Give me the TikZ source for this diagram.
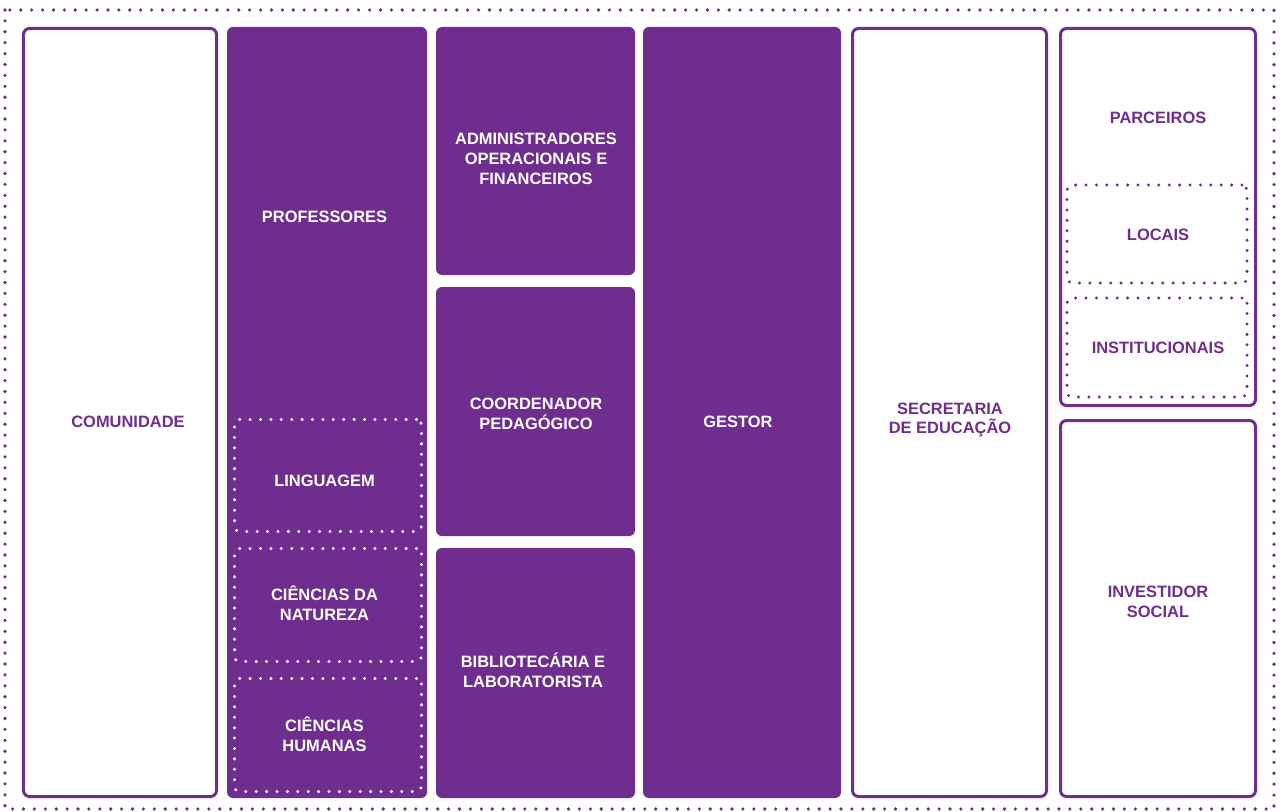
\documentclass[tikz,border=0pt]{standalone}
\usepackage{fontspec}
\setmainfont{Liberation Sans}
\definecolor{roxo}{RGB}{111,45,143}
\tikzset{
  base/.style={rectangle, inner sep=0pt, outer sep=0pt, rounded corners=6bp},
  wbox/.style={base, draw=roxo, line width=3bp, fill=white},
  pbox/.style={base, fill=roxo},
  dotbox/.style={base, draw=white, line width=3.3bp, dash pattern=on 0pt off 10.4bp, line cap=round, rounded corners=5bp},
  pdotbox/.style={dotbox, draw=roxo},
  wtxt/.style={text=white, font=\bfseries\fontsize{16.5}{20}\selectfont, align=center, inner sep=0pt},
  ptxt/.style={wtxt, text=roxo},
}
\begin{document}
\begin{tikzpicture}[x=1bp, y=-1bp]
\useasboundingbox (0,0) rectangle (1282,812);
% outer dotted frame
\draw[roxo, line width=3.6bp, dash pattern=on 0pt off 10.9bp, line cap=round] (5,10) rectangle (1274,809);
% column 1
\node[wbox, minimum width=193bp, minimum height=768bp] (com) at (120,412.5) {};
\node[ptxt] (comt) at (128,422) {COMUNIDADE};
% column 2
\node[pbox, minimum width=200bp, minimum height=771bp] (prof) at (327,412.5) {};
\node[wtxt] (proft) at (324.5,217) {PROFESSORES};
\node[dotbox, minimum width=187bp, minimum height=112bp] (ling) at (328,475.5) {};
\node[wtxt] (lingt) at (324.5,481) {LINGUAGEM};
\node[dotbox, minimum width=187bp, minimum height=113bp] (nat) at (328,605) {};
\node[wtxt] (natt) at (324.5,603) {CIÊNCIAS DA\\NATUREZA};
\node[dotbox, minimum width=187bp, minimum height=113bp] (hum) at (328,735) {};
\node[wtxt] (humt) at (324.5,734) {CIÊNCIAS\\HUMANAS};
% column 3
\node[pbox, minimum width=199bp, minimum height=248bp] (adm) at (535.5,151) {};
\node[wtxt] (admt) at (536,159) {ADMINISTRADORES\\OPERACIONAIS E\\FINANCEIROS};
\node[pbox, minimum width=199bp, minimum height=249bp] (coord) at (535.5,411.5) {};
\node[wtxt] (coordt) at (536,414) {COORDENADOR\\PEDAGÓGICO};
\node[pbox, minimum width=199bp, minimum height=250bp] (bib) at (535.5,673) {};
\node[wtxt] (bibt) at (533,670) {BIBLIOTECÁRIA E\\LABORATORISTA};
% column 4
\node[pbox, minimum width=198bp, minimum height=771bp] (gest) at (742,412.5) {};
\node[wtxt] (gestt) at (738,422) {GESTOR};
% column 5
\node[wbox, minimum width=194bp, minimum height=768bp] (sec) at (949.5,412.5) {};
\node[ptxt] (sect) at (950,420) {SECRETARIA\\DE EDUCAÇÃO};
% column 6
\node[wbox, minimum width=195bp, minimum height=377bp] (parc) at (1158,217) {};
\node[ptxt] (parct) at (1158,118) {PARCEIROS};
\node[pdotbox, minimum width=180bp, minimum height=98bp] (loc) at (1157,234) {};
\node[ptxt] (loct) at (1158,235) {LOCAIS};
\node[pdotbox, minimum width=180bp, minimum height=99bp] (inst) at (1157,347.5) {};
\node[ptxt] (instt) at (1158,348) {INSTITUCIONAIS};
\node[wbox, minimum width=195bp, minimum height=376bp] (inv) at (1158,608.5) {};
\node[ptxt] (invt) at (1158,602) {INVESTIDOR\\SOCIAL};
\end{tikzpicture}
\end{document}
